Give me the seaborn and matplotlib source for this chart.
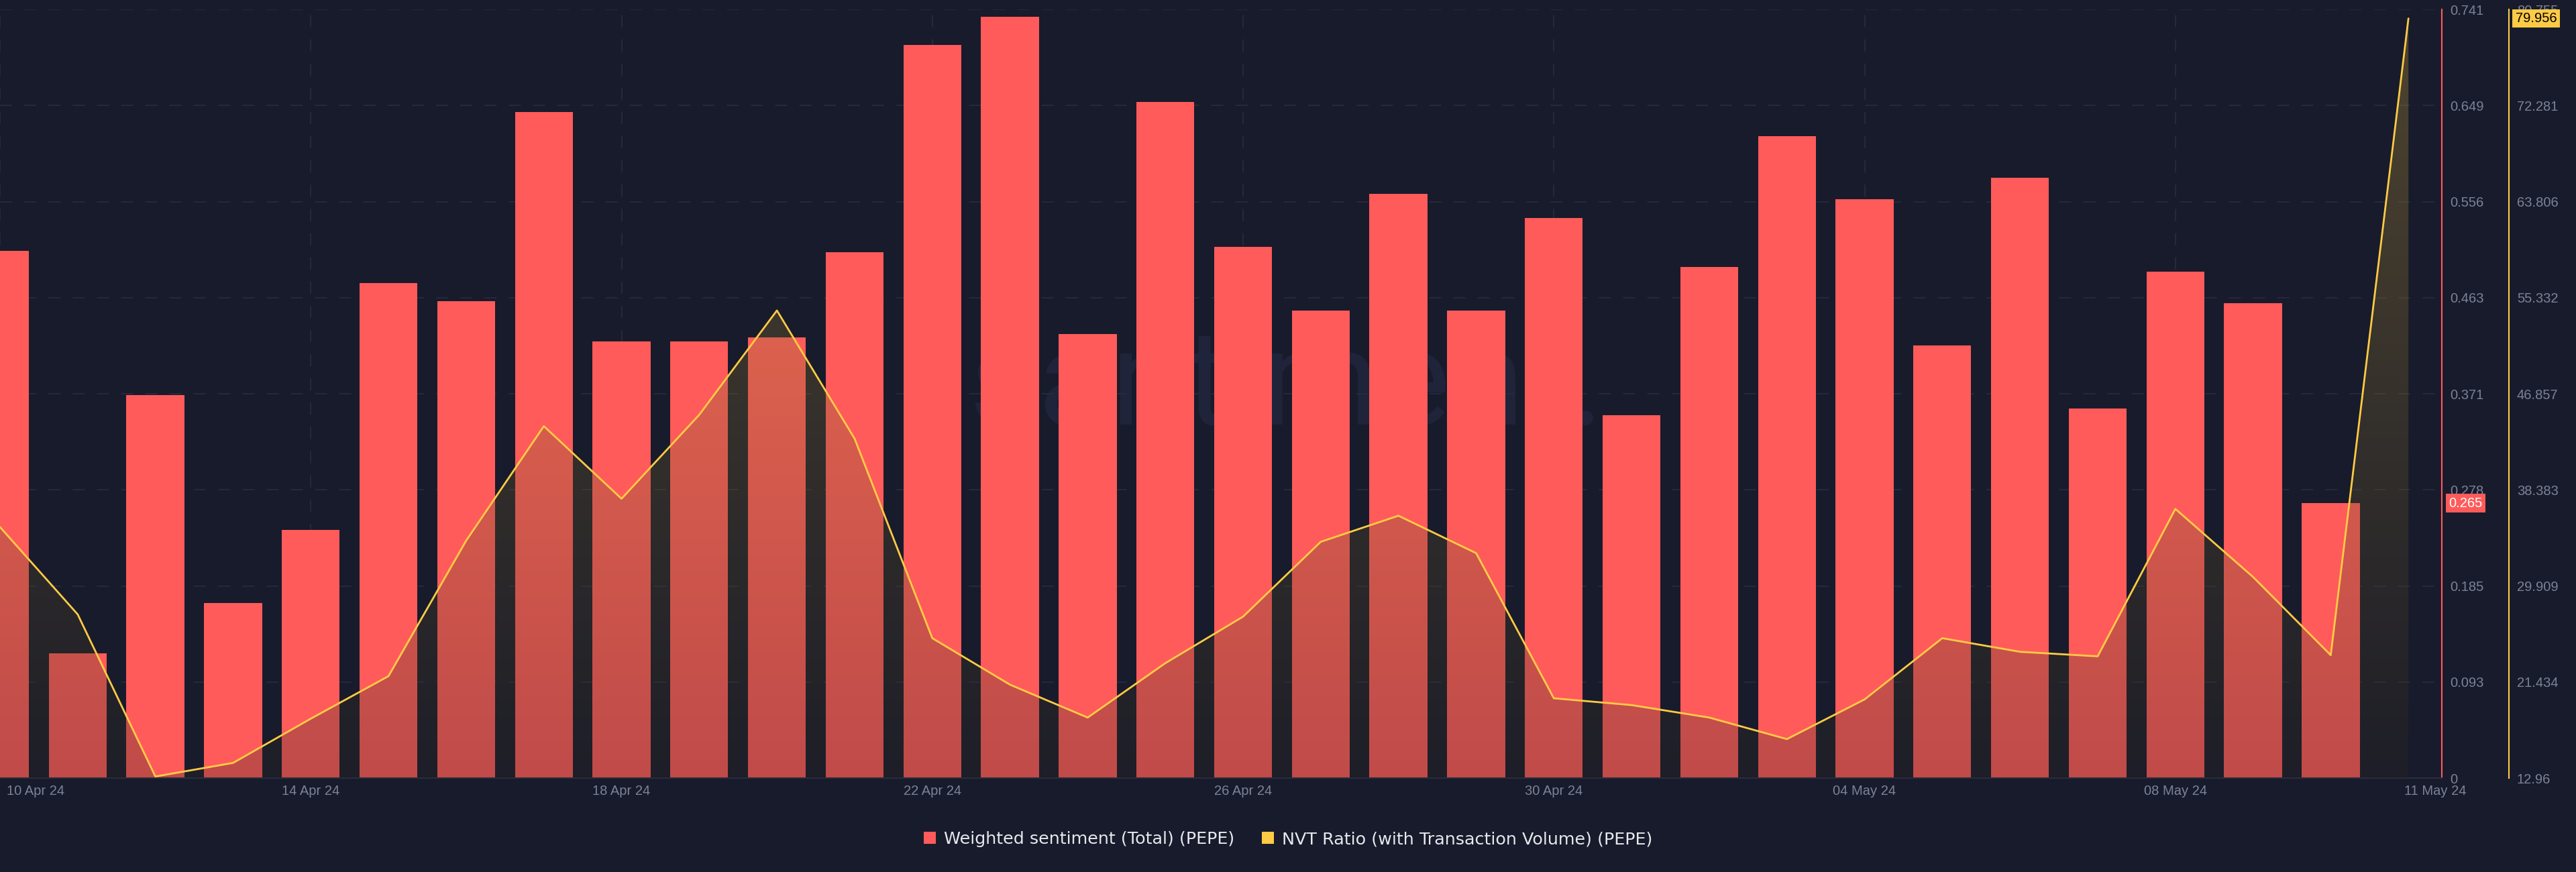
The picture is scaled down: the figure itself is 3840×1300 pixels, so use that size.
import numpy as np
import pandas as pd
import matplotlib
matplotlib.use("Agg")
import matplotlib.pyplot as plt
import seaborn as sns
from matplotlib.patches import Patch
from matplotlib.transforms import blended_transform_factory, ScaledTranslation

# ---------------- data ----------------
dates = [d.strftime("%d %b %y") for d in pd.date_range("2024-04-10", "2024-05-11", freq="D")]

sentiment = [0.508, 0.120, 0.369, 0.169, 0.239, 0.477, 0.460, 0.642, 0.421,
             0.421, 0.425, 0.507, 0.707, 0.734, 0.428, 0.652, 0.512,
             0.451, 0.563, 0.451, 0.540, 0.350, 0.493, 0.619, 0.558,
             0.417, 0.579, 0.356, 0.488, 0.458, 0.265]

nvt = [35.1, 27.4, 13.1, 14.3, 18.2, 21.95, 33.9, 44.0, 37.6,
       45.0, 54.2, 42.9, 25.3, 21.2, 18.3, 23.1, 27.2,
       33.8, 36.1, 32.8, 20.0, 19.4, 18.3, 16.4, 19.9,
       25.3, 24.1, 23.7, 36.7, 30.7, 23.8, 79.956]

tick_dates = ["10 Apr 24", "14 Apr 24", "18 Apr 24", "22 Apr 24", "26 Apr 24",
              "30 Apr 24", "04 May 24", "08 May 24", "11 May 24"]

sent_ticks = [0, 0.092625, 0.18525, 0.277875, 0.3705, 0.463125, 0.55575, 0.648375, 0.741]
sent_labels = ["0", "0.093", "0.185", "0.278", "0.371", "0.463", "0.556", "0.649", "0.741"]
nvt_ticks = [12.96, 21.434, 29.909, 38.383, 46.857, 55.332, 63.806, 72.281, 80.755]
nvt_labels = ["12.96", "21.434", "29.909", "38.383", "46.857", "55.332", "63.806", "72.281", "80.755"]

legend_labels = ["Weighted sentiment (Total) (PEPE)", "NVT Ratio (with Transaction Volume) (PEPE)"]

# ---------------- style ----------------
BG = "#181B2B"
RED = "#FF5B5B"
YELLOW = "#FFCB45"
TICK = "#7B8399"
GRID = "#272B3D"
FS = 14.5

sns.set_theme(style="dark")
plt.rcParams["font.family"] = ["Liberation Sans", "DejaVu Sans"]

fig = plt.figure(figsize=(38.4, 13), dpi=100, facecolor=BG)
ax = fig.add_axes([0.0, 140 / 1300, 3640 / 3840, 1146 / 1300])
ax.set_facecolor(BG)

x_bar = np.arange(len(sentiment))
x_line = np.arange(len(nvt))
df_bar = pd.DataFrame({"x": x_bar, "v": sentiment})
df_line = pd.DataFrame({"x": x_line, "v": nvt})

sns.barplot(data=df_bar, x="x", y="v", native_scale=True, width=0.745,
            color=RED, saturation=1, errorbar=None, linewidth=0, ax=ax, zorder=2)

XMAX = 31.43
ax.set_xlim(0, XMAX)
ax.set_ylim(0, 0.741)
ax.set_xlabel("")
ax.set_ylabel("")

# grid
ax.set_axisbelow(True)
tick_pos = [dates.index(t) for t in tick_dates]
ax.set_xticks(tick_pos)
ax.set_xticklabels(tick_dates)
ax.grid(True, axis="both", color=GRID, linestyle=(0, (10, 10)), linewidth=1.3)
ax.xaxis.get_gridlines()[-1].set_visible(False)

ax.set_yticks(sent_ticks)
ax.set_yticklabels(sent_labels)
ax.tick_params(axis="x", length=0, pad=7, labelsize=FS, labelcolor=TICK)

xl = ax.get_xticklabels()
xl[0].set_horizontalalignment("left")
xl[0].set_transform(xl[0].get_transform() + ScaledTranslation(10 / 100, 0, fig.dpi_scale_trans))
xl[-1].set_transform(xl[-1].get_transform() + ScaledTranslation(40 / 100, 0, fig.dpi_scale_trans))

# watermark
ax.text(0.527, 0.46, "santiment.", transform=ax.transAxes, ha="center", va="baseline",
        fontsize=144, color="#20243A", family=["Roboto", "DejaVu Sans"], zorder=0.4)

# ---------------- secondary axis ----------------
ax2 = ax.twinx()

# primary y axis on the right (twinx resets it to the left)
ax.yaxis.tick_right()
ax.yaxis.set_label_position("right")
ax.tick_params(axis="y", which="both", left=False, right=False, labelleft=False,
               labelright=True, length=0, pad=8.6, labelsize=FS, labelcolor=TICK)

for s in ["left", "top"]:
    ax.spines[s].set_visible(False)
ax.spines["bottom"].set_color("#2A2E40")
ax.spines["bottom"].set_linewidth(1.5)
ax.spines["right"].set_visible(True)
ax.spines["right"].set_color(RED)
ax.spines["right"].set_linewidth(1.5)

ax2.set_ylim(nvt_ticks[0], nvt_ticks[-1])
poly = ax2.fill_between(x_line, nvt, nvt_ticks[0], facecolor="none", linewidth=0)
top_c = np.array([207, 167, 58]) / 255
bot_c = np.array([44, 38, 33]) / 255
n = 256
t = np.linspace(0, 1, n)[:, None]
grad = np.zeros((n, 1, 4))
grad[:, 0, :3] = top_c * (1 - t) + bot_c * t
grad[:, 0, 3] = 0.30
im = ax2.imshow(grad, extent=[0, XMAX, nvt_ticks[0], nvt_ticks[-1]], aspect="auto",
                origin="upper", zorder=1, interpolation="bilinear")
im.set_clip_path(poly.get_paths()[0], transform=ax2.transData)

sns.lineplot(data=df_line, x="x", y="v", ax=ax2, color=YELLOW, linewidth=2.0, zorder=3)
ax2.set_xlim(0, XMAX)
ax2.set_ylim(nvt_ticks[0], nvt_ticks[-1])
ax2.set_xlabel("")
ax2.set_ylabel("")
ax2.grid(False)
ax2.set_yticks(nvt_ticks)
ax2.set_yticklabels(nvt_labels)
ax2.tick_params(axis="y", length=0, pad=8.6, labelsize=FS, labelcolor=TICK)
for s in ["left", "top", "bottom"]:
    ax2.spines[s].set_visible(False)
ax2.spines["right"].set_position(("outward", 72))
ax2.spines["right"].set_color(YELLOW)
ax2.spines["right"].set_linewidth(1.5)

# last-value labels
tr1 = blended_transform_factory(ax.transAxes, ax.transData)
ax2.annotate(f"{sentiment[-1]:.3f}", xy=(1, sentiment[-1]), xycoords=tr1,
             xytext=(7.2, 0), textcoords="offset points", ha="left", va="center",
             fontsize=FS, color="white", zorder=10, annotation_clip=False,
             bbox=dict(boxstyle="square,pad=0.22", facecolor=RED, edgecolor="none"))
tr2 = blended_transform_factory(ax2.transAxes, ax2.transData)
ax2.annotate(f"{nvt[-1]:.3f}", xy=(1, nvt[-1]), xycoords=tr2,
             xytext=(79, 0), textcoords="offset points", ha="left", va="center",
             fontsize=FS, color="black", zorder=10, annotation_clip=False,
             bbox=dict(boxstyle="square,pad=0.22", facecolor=YELLOW, edgecolor="none"))

# legend
handles = [Patch(facecolor=RED, edgecolor="none"), Patch(facecolor=YELLOW, edgecolor="none")]
fig.legend(handles=handles, labels=legend_labels, loc="center", bbox_to_anchor=(0.5, 49 / 1300),
           ncol=2, frameon=False, handlelength=0.72, handleheight=0.72,
           handletextpad=0.45, columnspacing=1.6, labelcolor="#E6E8EE",
           prop={"family": ["DejaVu Sans"], "size": 18.3})

fig.savefig("out.png", dpi=100, facecolor=BG)
